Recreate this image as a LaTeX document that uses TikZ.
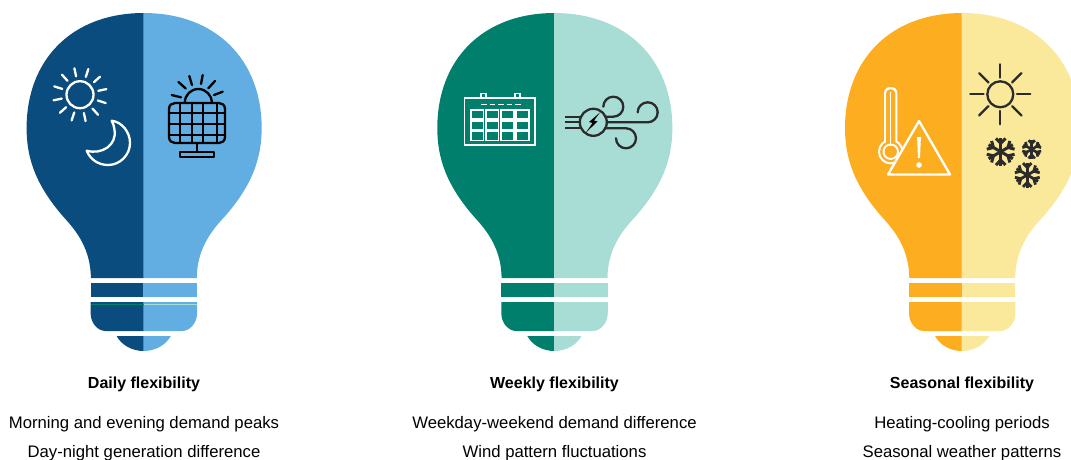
\documentclass[tikz,border=0pt]{standalone}
\usepackage{fontspec}
\setmainfont{Liberation Sans}
\usetikzlibrary{positioning}
\definecolor{dayblue}{HTML}{0A4C7D}
\definecolor{skyblue}{HTML}{62AEE2}
\definecolor{weekteal}{HTML}{007F6D}
\definecolor{paleteal}{HTML}{A8DDD6}
\definecolor{seasonorange}{HTML}{FDAE20}
\definecolor{paleyellow}{HTML}{FAE99A}
\definecolor{iconink}{HTML}{2B2B2B}
\tikzset{
  title/.style={font=\bfseries\fontsize{16}{19}\selectfont, anchor=center, inner sep=0pt},
  detail/.style={font=\fontsize{16.7}{20}\selectfont, anchor=center, inner sep=0pt},
  whiteicon/.style={draw=white, line width=2.3pt, line cap=round, line join=round},
  blackicon/.style={draw=black, line width=2.3pt, line cap=round, line join=round},
  inkicon/.style={draw=iconink, line width=2.3pt, line cap=round, line join=round}
}
% half a bulb, drawn leftwards from the axis
\newcommand{\halfbulb}[1]{
  \fill[#1] (0.3,13) .. controls (-72,13) and (-117,60) .. (-117,128)
    .. controls (-117,158) and (-108,185) .. (-80,217)
    .. controls (-66,232) and (-53,250) .. (-52.7,278) -- (0.3,278) -- cycle;
  \fill[#1] (-53,283) rectangle (0.3,297);
  \fill[#1] (-53,302) -- (-53,313) .. controls (-53,323) and (-46,331) .. (-38,331) -- (0.3,331) -- (0.3,302) -- cycle;
  \fill[#1] (-27,336) .. controls (-22,345) and (-12,351) .. (0.3,351) -- (0.3,336) -- cycle;
}
\newcommand{\bulb}[3]{
  \begin{scope}[xshift=#1pt]
    \halfbulb{#3}
    \begin{scope}[xscale=-1.009]
      \halfbulb{#2}
    \end{scope}
  \end{scope}
}
% snowflake: centre, radius, line width
\newcommand{\flake}[4]{
  \begin{scope}[shift={(#1,#2)}]
    \foreach \a in {0,60,...,300} {
      \begin{scope}[rotate=\a]
        \draw[inkicon, line width=#4pt, line cap=butt] (0,0) -- (0,-#3);
        \draw[inkicon, line width=#4pt, line cap=butt] (-0.34*#3,-0.95*#3) -- (0,-0.6*#3) -- (0.34*#3,-0.95*#3);
      \end{scope}
    }
  \end{scope}
}
\begin{document}
\begin{tikzpicture}[x=1pt,y=-1pt]
\useasboundingbox (0,0) rectangle (1071,459);
\clip (0,0) rectangle (1071,459);
\bulb{143.6}{skyblue}{dayblue}
\bulb{554.3}{paleteal}{weekteal}
\bulb{962}{paleyellow}{seasonorange}
\draw[weekteal, line width=0.5pt] (91,304.5) -- (143.6,304.5);
\draw[paleteal, line width=0.5pt] (143.6,304.5) -- (197,304.5);
% sun and moon
\draw[whiteicon] (80,94.7) circle (13.5);
\foreach \a in {18,48,...,348} \draw[whiteicon] (80,94.7) ++(\a:-18.7) -- ++(\a:-8.3);
\draw[whiteicon] (111.7,120.7) .. controls (122,122) and (130,132) .. (130,143)
  .. controls (130,155) and (120,165) .. (108,165)
  .. controls (98,165) and (90,159) .. (86.7,150.7)
  .. controls (102,155) and (117,145) .. (114.5,130) .. controls (114,126) and (113,123) .. (111.7,120.7) -- cycle;
% solar panel
\draw[blackicon] (184.8,102.5) arc (180:360:13.5);
\draw[blackicon] (175,103) -- (219,103) .. controls (222,103) and (225,105) .. (225,109) -- (225,137)
  .. controls (225,141) and (222,143) .. (219,143) -- (175,143) .. controls (172,143) and (169,141) .. (169,137)
  -- (169,109) .. controls (169,105) and (172,103) .. (175,103) -- cycle;
\foreach \x in {180,191.7,203.3,216.7} \draw[blackicon, line cap=butt] (\x,103) -- (\x,143);
\foreach \y in {113,124,135} \draw[blackicon, line cap=butt] (169,\y) -- (225,\y);
\draw[blackicon, line cap=butt] (197.3,143) -- (197.3,152);
\draw[blackicon, line cap=butt] (180,152) rectangle (214,157);
\draw[blackicon] (178.5,82) -- (185.7,88.5);
\draw[blackicon] (189.3,76) -- (192,85);
\draw[blackicon] (202.7,75) -- (201,84);
\draw[blackicon] (215,81) -- (208.3,88.3);
\draw[blackicon] (222.7,91.7) -- (214,95);
\draw[blackicon] (171.7,95) -- (181,97.3);
% calendar
\draw[whiteicon, line width=1.6pt, line cap=butt, line join=miter] (464.3,97.7) rectangle (535,145);
\draw[whiteicon, line width=1.6pt, line cap=butt, line join=miter] (481,97.7) -- (481,93.3) -- (486,93.3) -- (486,97.7);
\draw[whiteicon, line width=1.6pt, line cap=butt, line join=miter] (515,97.7) -- (515,93.3) -- (520,93.3) -- (520,97.7);
\foreach \x in {481,489.5,498,506.5,515} \draw[whiteicon, line width=1.4pt, line cap=butt] (\x,104.7) -- +(5.5,0);
\foreach \x in {470.7,485.7,501,516}
  \foreach \y in {110,120.7,131.4}
    \draw[whiteicon, line width=1.6pt, line cap=butt, line join=miter] (\x,\y) rectangle +(12.7,9);
% wind turbine
\draw[inkicon] (593.3,122.3) circle (13.5);
\foreach \y in {116.7,122.3,128.3} \draw[inkicon, line cap=butt] (565,\y) -- (581,\y);
\draw[inkicon] (605,116.7) -- (613.3,116.7) arc (90:-180:10);
\draw[inkicon] (606.8,122.3) -- (647.7,122.3) arc (90:-180:10);
\draw[inkicon] (605,128.3) -- (626,128.3) arc (-90:180:10);
\fill[black] (600,112.5) -- (589,122) -- (592.5,123) -- (586,132.5) -- (597.5,121.5) -- (594,120.5) -- cycle;
% thermometer and warning
\fill[white] (890.7,151.7) circle (12.7);
\fill[white, rounded corners=6pt] (884,100) -- (884,87) -- (897.4,87) -- (897.4,150) -- (884,150) -- cycle;
\fill[seasonorange] (890.7,151.7) circle (10.6);
\fill[seasonorange, rounded corners=4.5pt] (886,100) -- (886,89.2) -- (895.4,89.2) -- (895.4,150) -- (886,150) -- cycle;
\fill[white] (890.7,151.7) circle (8.2);
\fill[seasonorange] (890.7,151.7) circle (6.2);
\draw[white, line width=1.4pt] (890.7,92) -- (890.7,145.5);
\draw[whiteicon, fill=seasonorange] (919,121) -- (950,174.5) -- (888,174.5) -- cycle;
\fill[white] (917.1,137) -- (920.9,137) -- (920,158) -- (918,158) -- cycle;
\fill[white] (919,165) circle (2.8);
% sun
\draw[inkicon] (1000.3,94.3) circle (13);
\foreach \a in {0,45,...,315} \draw[inkicon] (1000.3,94.3) ++(\a:-16.7) -- ++(\a:-13.3);
% snow
\flake{1000.7}{151.7}{14}{3}
\flake{1031.7}{149.3}{9.5}{2.6}
\flake{1027.3}{175}{12.5}{2.8}
% labels
\node[title] (dailytitle) at (144,384.7) {Daily flexibility};
\node[detail] (dailyone) at (144,423.7) {Morning and evening demand peaks};
\node[detail] (dailytwo) at (144,452.7) {Day-night generation difference};
\node[title] (weeklytitle) at (554.5,384.7) {Weekly flexibility};
\node[detail] (weeklyone) at (554.5,423.7) {Weekday-weekend demand difference};
\node[detail] (weeklytwo) at (554.5,452.7) {Wind pattern fluctuations};
\node[title] (seasontitle) at (962,384.7) {Seasonal flexibility};
\node[detail] (seasonone) at (962,423.7) {Heating-cooling periods};
\node[detail] (seasontwo) at (962,452.7) {Seasonal weather patterns};
\end{tikzpicture}
\end{document}
